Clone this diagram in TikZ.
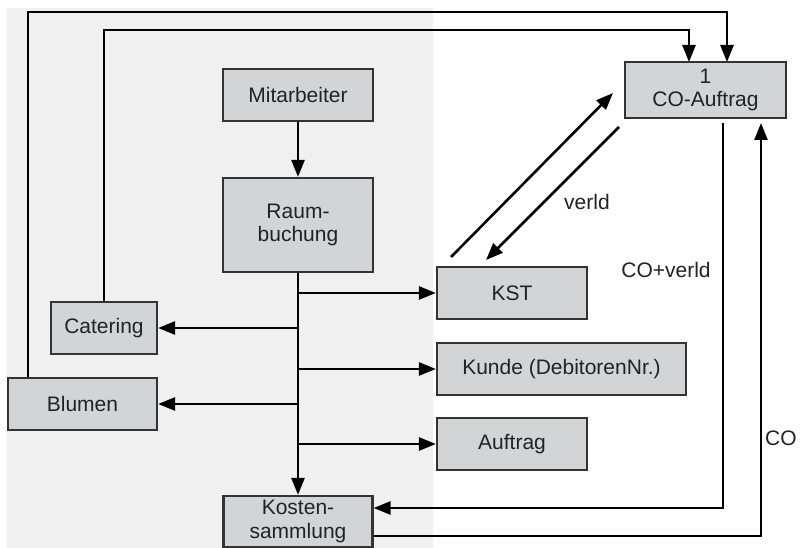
\documentclass[tikz,border=0pt]{standalone}
\usepackage{fontspec}
\setmainfont{Liberation Sans}
\usetikzlibrary{arrows.meta}
\definecolor{panel}{HTML}{F0F0F0}
\definecolor{boxfill}{HTML}{D3D4D6}
\definecolor{boxline}{HTML}{333333}
\definecolor{txt}{HTML}{222222}
\tikzset{
  box/.style={draw=boxline, fill=boxfill, line width=2.2pt, inner sep=0pt,
    font=\fontsize{21}{23.5}\selectfont, text=txt, align=center},
  arr/.style={line width=2.6pt, -{Triangle[length=17pt,width=13pt]}},
  lbl/.style={font=\fontsize{21}{23.5}\selectfont, text=txt, inner sep=0pt}
}
\begin{document}
\begin{tikzpicture}[x=1pt,y=-1pt]
\useasboundingbox (0,0) rectangle (804,548);
\fill[panel] (7,8) rectangle (433,548);

\node[box, minimum width=150pt, minimum height=52pt] (mit) at (298,95) {Mitarbeiter};
\node[box, minimum width=150pt, minimum height=94pt] (raum) at (298,225) {Raum-\\buchung};
\node[box, minimum width=106pt, minimum height=52pt] (cat) at (104,328) {Catering};
\node[box, minimum width=149pt, minimum height=52pt] (blu) at (82.5,404) {Blumen};
\node[box, minimum width=150pt, minimum height=52pt] (kst) at (512,293) {KST};
\node[box, minimum width=249pt, minimum height=52pt] (kun) at (561.5,369) {Kunde (DebitorenNr.)};
\node[box, minimum width=150pt, minimum height=52pt] (auf) at (512,444) {Auftrag};
\node[box, minimum width=149pt, minimum height=51pt] (kos) at (298,521.5) {Kosten-\\sammlung};
\node[box, minimum width=161pt, minimum height=56pt] (co) at (705.5,90) {1\\CO-Auftrag};

% coordinates for connector routes
\coordinate (top1) at (28,12);
\coordinate (top2) at (104,30);
\coordinate (coin1) at (689,62);
\coordinate (coin2) at (727,62);
\coordinate (d1s) at (451,257);
\coordinate (d1e) at (613,93);
\coordinate (d2s) at (619,127);
\coordinate (d2e) at (486,260);
\coordinate (cout) at (723,123);
\coordinate (cbot) at (723,508);
\coordinate (cin) at (761,123);
\coordinate (obot) at (761,536);

% main flow
\draw[arr] (mit.south) -- (raum.north);
\draw[arr] (raum.south) -- (kos.north);
\draw[arr] (raum.south |- kst) -- (kst.west);
\draw[arr] (raum.south |- cat) -- (cat.east);
\draw[arr] (raum.south |- kun) -- (kun.west);
\draw[arr] (raum.south |- blu) -- (blu.east);
\draw[arr] (raum.south |- auf) -- (auf.west);

% top loops
\draw[arr] (cat.north) -- (top2) -- (top2 -| coin1) -- (coin1);
\draw[arr] (blu.north -| top1) -- (top1) -- (top1 -| coin2) -- (coin2);

% diagonals
\draw[arr] (d1s) -- (d1e);
\draw[arr] (d2s) -- (d2e);
\node[lbl] (verld) at (587,202) {verld};

% right loops
\draw[arr] (cout) -- (cbot) -- (kos.east |- cbot);
\draw[arr] (kos.east |- obot) -- (obot) -- (cin);
\node[lbl] (coverld) at (666,270) {CO+verld};
\node[lbl, anchor=west] (cocut) at (765,438) {CO};
\end{tikzpicture}
\end{document}
